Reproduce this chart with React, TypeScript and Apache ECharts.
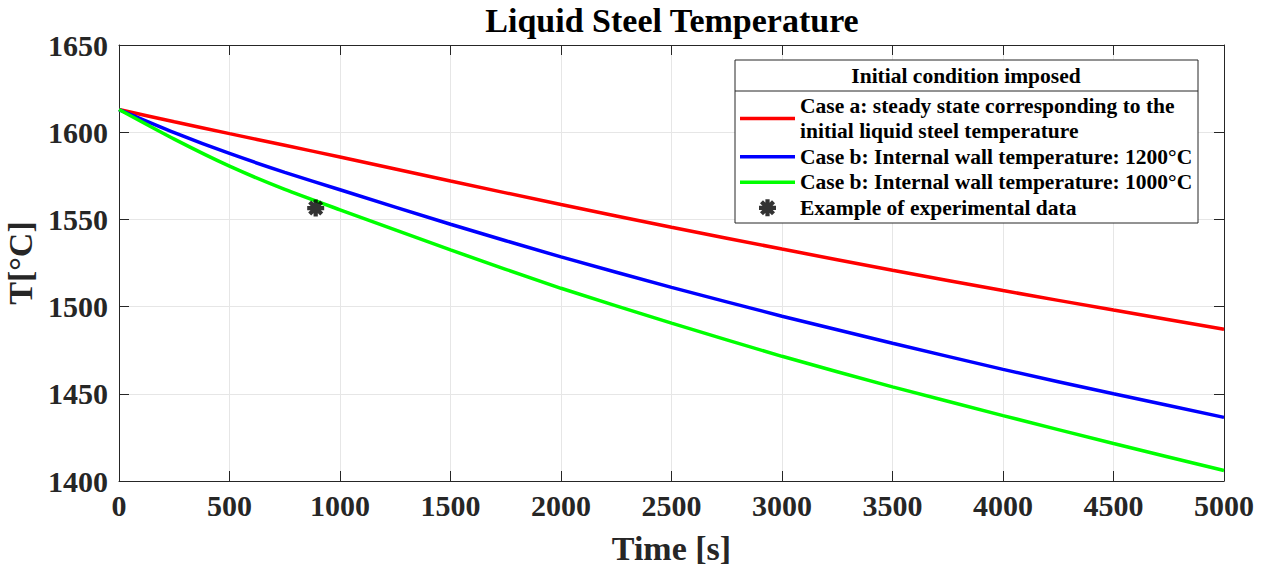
import React, { useEffect, useRef } from "react";
import * as echarts from "echarts";

const timeS = [0, 250, 500, 750, 1000, 1500, 2000, 2500, 3000, 3500, 4000, 4500, 5000];
const caseA = [1613, 1606, 1599.2, 1592.5, 1585.8, 1572, 1558.5, 1545.5, 1533, 1520.8, 1509.2, 1498, 1487];
const caseB1200 = [1613, 1599.8, 1587.8, 1577, 1567, 1547.2, 1528.5, 1511, 1494.5, 1479, 1464, 1450, 1436.5];
const caseB1000 = [1613, 1596, 1580.5, 1567.2, 1555.5, 1532.5, 1510.5, 1490.5, 1471.5, 1454, 1437.5, 1421.5, 1406];
const experimental = [[890, 1556.5]];

const seriesNames = [
  "Case a: steady state corresponding to the\ninitial liquid steel temperature",
  "Case b: Internal wall temperature: 1200°C",
  "Case b: Internal wall temperature: 1000°C",
  "Example of experimental data",
];

const FONT = "'Liberation Serif', 'Times New Roman', serif";
const AX = "#262626";

const asterisk =
  "path://M0 0.75L2 0.75L2 1.25L0 1.25Z" +
  "M1.25 0L1.25 2L0.75 2L0.75 0Z" +
  "M0.47 0.116L1.884 1.53L1.53 1.884L0.116 0.47Z" +
  "M1.884 0.47L0.47 1.884L0.116 1.53L1.53 0.116Z";

const lineIcon = "path://M0 0L55 0L55 3.5L0 3.5Z";

export default function App() {
  const ref = useRef<HTMLDivElement>(null);
  useEffect(() => {
    const chart = echarts.init(ref.current!, null, { renderer: "svg" });
    const zip = (ys: number[]) => timeS.map((t, i) => [t, ys[i]]);
    const lineSeries = (name: string, ys: number[], color: string) => ({
      name,
      type: "line",
      data: zip(ys),
      symbol: "none",
      smooth: 0.2,
      lineStyle: { color, width: 3.5 },
      itemStyle: { color },
      z: 2,
    });
    const plain = (v: number) => String(v);
    chart.setOption({
      animation: false,
      backgroundColor: "#ffffff",
      title: {
        text: "Liquid Steel Temperature",
        left: 667,
        top: -2,
        textAlign: "center",
        textStyle: { fontFamily: FONT, fontWeight: "bold", fontSize: 34, color: "#000" },
      },
      grid: { left: 119, right: 41, top: 45, bottom: 87, outerBoundsMode: "none", containLabel: false },
      xAxis: [
        {
          type: "value",
          min: 0,
          max: 5000,
          interval: 500,
          name: "Time [s]",
          nameLocation: "middle",
          nameGap: 50,
          nameTextStyle: { fontFamily: FONT, fontWeight: "bold", fontSize: 34, color: AX },
          axisLine: { show: true, onZero: false, lineStyle: { color: AX, width: 1 } },
          axisTick: { show: true, inside: true, length: 10, lineStyle: { color: AX } },
          axisLabel: { fontFamily: FONT, fontWeight: "bold", fontSize: 30, color: AX, margin: 9, formatter: plain },
          splitLine: { show: true, lineStyle: { color: "#e6e6e6", width: 1 } },
        },
        {
          type: "value",
          position: "top",
          min: 0,
          max: 5000,
          interval: 500,
          axisLine: { show: true, onZero: false, lineStyle: { color: AX, width: 1 } },
          axisTick: { show: true, inside: true, length: 10, lineStyle: { color: AX } },
          axisLabel: { show: false },
          splitLine: { show: false },
        },
      ],
      yAxis: [
        {
          type: "value",
          min: 1400,
          max: 1650,
          interval: 50,
          name: "T[°C]",
          nameLocation: "middle",
          nameGap: 72,
          nameTextStyle: { fontFamily: FONT, fontWeight: "bold", fontSize: 34, color: AX },
          axisLine: { show: true, onZero: false, lineStyle: { color: AX, width: 1 } },
          axisTick: { show: true, inside: true, length: 10, lineStyle: { color: AX } },
          axisLabel: { fontFamily: FONT, fontWeight: "bold", fontSize: 30, color: AX, margin: 11, formatter: plain },
          splitLine: { show: true, lineStyle: { color: "#e6e6e6", width: 1 } },
        },
        {
          type: "value",
          position: "right",
          min: 1400,
          max: 1650,
          interval: 50,
          axisLine: { show: true, onZero: false, lineStyle: { color: AX, width: 1 } },
          axisTick: { show: true, inside: true, length: 10, lineStyle: { color: AX } },
          axisLabel: { show: false },
          splitLine: { show: false },
        },
      ],
      legend: {
        orient: "vertical",
        left: 740,
        top: 93,
        padding: 0,
        itemGap: 0,
        itemWidth: 55,
        itemHeight: 17,
        selectedMode: false,
        data: [
          { name: seriesNames[0], icon: lineIcon },
          { name: seriesNames[1], icon: lineIcon },
          { name: seriesNames[2], icon: lineIcon },
          { name: seriesNames[3], icon: asterisk },
        ],
        textStyle: { fontFamily: FONT, fontWeight: "bold", fontSize: 21.5, lineHeight: 25.5, color: "#000" },
        z: 10,
      },
      graphic: [
        {
          type: "rect",
          shape: { x: 735, y: 60, width: 463, height: 163 },
          style: { fill: "#fff", stroke: AX, lineWidth: 1 },
          z: 5,
        },
        {
          type: "line",
          shape: { x1: 735, y1: 91, x2: 1198, y2: 91 },
          style: { stroke: AX, lineWidth: 1 },
          z: 6,
        },
        {
          type: "text",
          x: 966,
          y: 76,
          style: {
            text: "Initial condition imposed",
            fontFamily: FONT,
            fontWeight: "bold",
            fontSize: 21.5,
            fill: "#000",
            align: "center",
            verticalAlign: "middle",
          },
          z: 6,
        },
      ],
      series: [
        lineSeries(seriesNames[0], caseA, "#ff0000"),
        lineSeries(seriesNames[1], caseB1200, "#0000ff"),
        lineSeries(seriesNames[2], caseB1000, "#00ff00"),
        {
          name: seriesNames[3],
          type: "scatter",
          data: experimental,
          symbol: asterisk,
          symbolSize: 17,
          itemStyle: { color: "#000" },
          z: 3,
        },
      ],
    });
    return () => chart.dispose();
  }, []);
  return (
    <div
      ref={ref}
      style={{ position: "fixed", left: 0, top: 0, width: 1265, height: 568, background: "#fff" }}
    />
  );
}
